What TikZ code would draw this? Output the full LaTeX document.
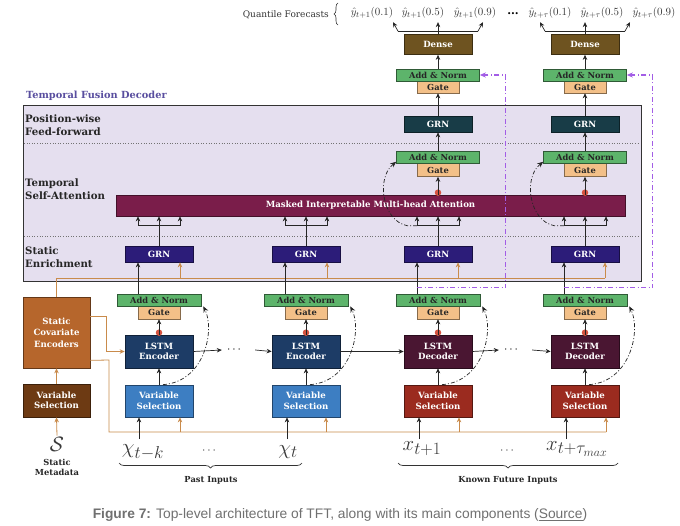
\documentclass[tikz,border=0pt]{standalone}
\usepackage{fontspec}
\setmainfont{DejaVu Serif}
\newfontfamily\capfont{Liberation Sans}
\DeclareMathSizes{20.74}{20.74}{17.28}{12}
\usetikzlibrary{arrows.meta,calc,decorations.pathreplacing}
\definecolor{panelfill}{HTML}{E5DFEF}
\definecolor{panelline}{HTML}{333333}
\definecolor{vspast}{HTML}{3D7EC2}
\definecolor{lstmenc}{HTML}{1D3C66}
\definecolor{vsfut}{HTML}{9B2B1F}
\definecolor{lstmdec}{HTML}{4A1632}
\definecolor{svsc}{HTML}{6D3A13}
\definecolor{scec}{HTML}{B6662C}
\definecolor{addn}{HTML}{5DB46B}
\definecolor{gatec}{HTML}{F3C088}
\definecolor{grnA}{HTML}{2C1C79}
\definecolor{grnB}{HTML}{183C47}
\definecolor{attnc}{HTML}{7A1D4A}
\definecolor{densec}{HTML}{6E5320}
\definecolor{orng}{HTML}{C98B4B}
\definecolor{purp}{HTML}{A35DE6}
\definecolor{tfdlabel}{HTML}{594E9F}
\definecolor{reddot}{HTML}{D65441}
\definecolor{capgrey}{HTML}{707070}
\definecolor{inkgrey}{HTML}{3A3A3A}
\begin{document}
\begin{tikzpicture}[x=1pt,y=-1pt,
  box/.style={draw=#1!55!black, fill=#1, line width=0.7pt, inner sep=0pt, align=center, text=white, font=\fontsize{8.6}{10.5}\selectfont\bfseries},
  anbox/.style={draw=addn!50!black, fill=addn, line width=0.6pt, inner sep=0pt, minimum width=83pt, minimum height=12pt, font=\fontsize{8.3}{9}\selectfont\bfseries, text=black!85},
  gbox/.style={draw=gatec!55!black, fill=gatec, line width=0.6pt, inner sep=0pt, minimum width=42pt, minimum height=13pt, font=\fontsize{8.3}{9}\selectfont\bfseries, text=black!85},
  arr/.style={draw=black!85, line width=0.7pt, -{Stealth[length=5pt,width=4.5pt]}},
  oarr/.style={draw=orng, line width=0.8pt, -{Stealth[length=5pt,width=4.5pt]}},
  oline/.style={draw=orng, line width=0.8pt},
  bline/.style={draw=black!85, line width=0.7pt},
  skipc/.style={draw=black!85, line width=0.7pt, dash pattern=on 4pt off 2pt on 1pt off 2pt, -{Stealth[length=6pt,width=5pt]}},
  pskip/.style={draw=purp, line width=1.1pt, dash pattern=on 5pt off 2.5pt on 1pt off 2.5pt, -{Stealth[length=6pt,width=5pt]}},
  rowlab/.style={align=left, anchor=west, inner sep=0pt, font=\fontsize{10.2}{12.5}\selectfont\bfseries, text=black!85},
  rdot/.style={circle, fill=reddot, inner sep=0pt, minimum size=6.5pt},
  inlab/.style={text=inkgrey, inner sep=1pt, font=\fontsize{20.74}{21}\selectfont},
  qlab/.style={text=inkgrey, inner sep=0pt, font=\fontsize{10.95}{12}\selectfont},
  grplab/.style={text=black!85, align=center, inner sep=0pt, font=\fontsize{8.3}{10}\selectfont\bfseries},
  brc/.style={draw=black!80, line width=0.7pt, decorate, decoration={brace, amplitude=5pt}},
]
\useasboundingbox (0,0) rectangle (680,525);
\fill[white] (0,0) rectangle (680,525);

% decoder panel
\node[draw=panelline, fill=panelfill, line width=1pt, minimum width=618pt, minimum height=176pt, inner sep=0pt] (dec) at (332,193) {};
\draw[dotted, black!55, line width=0.6pt] (24,143) -- (640,143);
\draw[dotted, black!55, line width=0.6pt] (24,236) -- (640,236);
\node[anchor=west, inner sep=0pt, font=\fontsize{9.8}{11}\selectfont\bfseries, text=tfdlabel] (tfd) at (26,96) {Temporal Fusion Decoder};
\node[rowlab] (rl1) at (25,125) {Position-wise\\Feed-forward};
\node[rowlab] (rl2) at (25,189) {Temporal\\Self-Attention};
\node[rowlab] (rl3) at (25,257) {Static\\Enrichment};

% attention bar
\node[box=attnc, minimum width=509pt, minimum height=21pt, font=\fontsize{8.6}{9}\selectfont\bfseries] (att) at (370.5,205.5) {Masked Interpretable Multi-head Attention};

% columns
\foreach \i/\x/\vc/\lc/\lw in {1/159/vspast/lstmenc/Encoder,2/306/vspast/lstmenc/Encoder,3/438/vsfut/lstmdec/Decoder,4/585/vsfut/lstmdec/Decoder}{
  \node[box=\vc, minimum width=68pt, minimum height=32pt] (vs\i) at (\x,401) {Variable\\Selection};
  \node[box=\lc, minimum width=68pt, minimum height=33pt] (ls\i) at (\x,351.5) {LSTM\\\lw};
  \node[gbox] (g\i) at (\x,312.5) {Gate};
  \node[anbox, minimum width=84pt] (an\i) at (\x,300) {Add \& Norm};
  \node[box=grnA, minimum width=68pt, minimum height=16pt] (ge\i) at (\x,254) {GRN};
}
\foreach \i/\x in {3/438,4/585}{
  \node[gbox] (gu\i) at (\x,170) {Gate};
  \node[anbox] (anu\i) at (\x,157.5) {Add \& Norm};
  \node[box=grnB, minimum width=68pt, minimum height=16pt] (gp\i) at (\x,124) {GRN};
  \node[gbox, minimum height=12pt] (gt\i) at (\x,87) {Gate};
  \node[anbox] (ant\i) at (\x,75) {Add \& Norm};
  \node[box=densec, minimum width=68pt, minimum height=20pt] (de\i) at (\x,44.5) {Dense};
}

% static boxes
\node[box=scec, minimum width=67pt, minimum height=71pt, font=\fontsize{8.6}{11.5}\selectfont\bfseries] (sce) at (56.5,332.5) {Static\\Covariate\\Encoders};
\node[box=svsc, minimum width=67pt, minimum height=33pt] (svs) at (56.5,400.5) {Variable\\Selection};

% inputs
\node[inlab] (sm) at (57,444) {$\mathcal{S}$};
\node[grplab] (smlab) at (57,467) {Static\\Metadata};
\node[inlab] (in1) at (143,452) {$\chi_{t-k}$};
\node[inlab] (in2) at (288,452) {$\chi_{t}$};
\node[inlab] (in3) at (422,449) {$x_{t+1}$};
\node[inlab] (in4) at (577,449) {$x_{t+\tau_{max}}$};
\node[text=inkgrey, font=\fontsize{12}{12}\selectfont] (idt1) at (209,451) {$\cdots$};
\node[text=inkgrey, font=\fontsize{12}{12}\selectfont] (idt2) at (507,451) {$\cdots$};
\draw[brc] (302,463) -- (119,463);
\draw[brc] (618,463) -- (398,463);
\node[grplab] (pin) at (211,480) {Past Inputs};
\node[grplab] (kfi) at (508,480) {Known Future Inputs};

% quantile forecasts
\node[anchor=east, inner sep=0pt, text=black!80, font=\fontsize{9}{10}\selectfont] (qf) at (329,15) {Quantile Forecasts};
\draw[draw=black!80, line width=0.6pt, decorate, decoration={brace, amplitude=4pt}] (338,25) -- (338,3);
\node[qlab] (q31) at (372,13) {$\hat{y}_{t+1}(0.1)$};
\node[qlab] (q32) at (423,13) {$\hat{y}_{t+1}(0.5)$};
\node[qlab] (q33) at (475,13) {$\hat{y}_{t+1}(0.9)$};
\node[text=black, font=\fontsize{11}{11}\selectfont\bfseries] (qdt) at (513,14) {...};
\node[qlab] (q41) at (550,13) {$\hat{y}_{t+\tau}(0.1)$};
\node[qlab] (q42) at (602,13) {$\hat{y}_{t+\tau}(0.5)$};
\node[qlab] (q43) at (654,13) {$\hat{y}_{t+\tau}(0.9)$};

% orange static context lines
\coordinate (ot0) at (56.5,278);
\coordinate (ob0) at (109,432);
\draw[oline] (sce.north) -- (ot0) -- (605,278);
\draw[oline] ($(sce.south east)+(0,-8)$) -- (109,360) -- (ob0) -- (606,432);
\draw[oarr] ($(sce.north east)+(0,20)$) -- ++(16,0) |- (ls1.west);
\draw[oarr] (svs.north) -- (sce.south);
\draw[oarr] (sm.north) -- (svs.south);
\foreach \i/\bx/\ox/\gx in {1/139/180/180,2/287/326/327,3/419/459/458,4/566/606/605}{
  \coordinate (ob\i) at (\ox,432);
  \draw[oarr] (ob\i) -- (ob\i |- vs\i.south);
  \coordinate (ot\i) at (\gx,278);
  \draw[oarr] (ot\i) -- (ot\i |- ge\i.south);
  \coordinate (src\i) at (\bx,439);
  \draw[arr] (src\i) -- (src\i |- vs\i.south);
}

% per-column connectors
\foreach \i in {1,2,3,4}{
  \draw[arr] (vs\i.north) -- (ls\i.south);
  \node[rdot] (rd\i) at ($(ls\i.north)+(0,-2)$) {};
  \draw[arr] (ls\i.north) -- (g\i.south);
  \coordinate (ai\i) at ($(an\i.north)+(-21,0)$);
  \draw[arr] (ai\i) -- (ai\i |- ge\i.south);
  \draw[arr] (ge\i.north) -- (ge\i.north |- att.south);
  \coordinate (bl\i) at ($(ge\i.north)+(-21,-20)$);
  \coordinate (br\i) at ($(ge\i.north)+(21,-20)$);
  \draw[bline] (bl\i) -- (br\i);
  \draw[arr] (bl\i) -- (bl\i |- att.south);
  \draw[arr] (br\i) -- (br\i |- att.south);
  \draw[skipc] ($(vs\i.north)+(4,0)$) .. controls ($(vs\i.north)+(46,-3)$) and ($(vs\i.north)+(56,-55)$) .. ($(an\i.south east)+(2,0)$);
}

% LSTM chain
\node[inner sep=0pt, font=\fontsize{12}{12}\selectfont] (dt1) at (234,350) {$\cdots$};
\node[inner sep=0pt, font=\fontsize{12}{12}\selectfont] (dt2) at (511,350) {$\cdots$};
\draw[arr] (ls1.east) -- ($(dt1.west)+(-5,0)$);
\draw[arr] ($(dt1.east)+(14,0)$) -- (ls2.west);
\draw[arr] (ls2.east) -- (ls3.west);
\draw[arr] (ls3.east) -- ($(dt2.west)+(-5,0)$);
\draw[arr] ($(dt2.east)+(14,0)$) -- (ls4.west);

% upper decoder chain
\foreach \i in {3,4}{
  \coordinate (at\i) at (gu\i.south |- att.north);
  \node[rdot] (rdu\i) at ($(at\i)+(0,-2)$) {};
  \draw[arr] (at\i) -- (gu\i.south);
  \draw[arr] (anu\i.north) -- (gp\i.south);
  \draw[arr] (gp\i.north) -- (gt\i.south);
  \draw[arr] (ant\i.north) -- (de\i.south);
  \draw[skipc] ($(ge\i.north)+(-21,-20)$) -- ($(ge\i.north)+(-31,-20)$) .. controls ($(ge\i.north)+(-56,-25)$) and ($(ge\i.north)+(-62,-68)$) .. ($(anu\i.south west)+(0,-2)$);
  \coordinate (db\i) at ($(de\i.north)+(0,-3)$);
  \draw[arr] (de\i.north) -- ++(0,-12);
  \draw[bline] ($(db\i)+(-40,0)$) -- ($(db\i)+(40,0)$);
  \draw[arr] ($(db\i)+(-40,0)$) -- ($(db\i)+(-45,-9)$);
  \draw[arr] ($(db\i)+(40,0)$) -- ($(db\i)+(45,-9)$);
  \draw[pskip] ($(an\i.north)+(-21,-6)$) -| ($(ant\i.east)+(26,0)$) -- (ant\i.east);
}

% caption
\node[font=\capfont\fontsize{13.8}{15}\selectfont, text=capgrey] (cap) at (340,515) {\textbf{Figure 7:} Top-level architecture of TFT, along with its main components (\underline{Source})};
\end{tikzpicture}
\end{document}
